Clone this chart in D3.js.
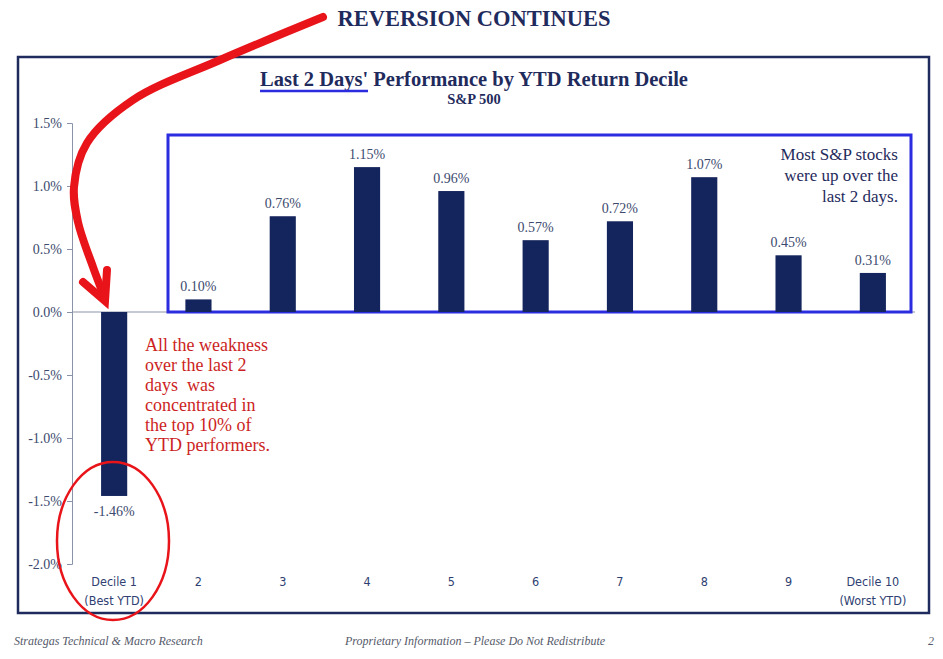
<!DOCTYPE html>
<html lang="en">
<head>
<meta charset="utf-8">
<title>Reversion Continues</title>
<script src="https://d3js.org/d3.v7.min.js"></script>
<style>
  body { margin: 0; padding: 0; background: #fff; }
  svg { display: block; }
  .serif { font-family: "Liberation Serif", "DejaVu Serif", serif; }
  .narrow { font-family: "Liberation Sans Narrow", "DejaVu Sans Condensed", sans-serif; }
  .axis path, .axis line { stroke: #8a93a8; }
  .axis text { fill: #3c4a6e; font-family: "Liberation Serif", serif; font-size: 14px; }
</style>
</head>
<body>
<script>
// ---- data ----
var deciles = ["1", "2", "3", "4", "5", "6", "7", "8", "9", "10"];
var labelTop = ["Decile 1", "2", "3", "4", "5", "6", "7", "8", "9", "Decile 10"];
var labelBottom = ["(Best YTD)", "", "", "", "", "", "", "", "", "(Worst YTD)"];
var returns = [-1.46, 0.10, 0.76, 1.15, 0.96, 0.57, 0.72, 1.07, 0.45, 0.31];
var yTicks = [1.5, 1.0, 0.5, 0.0, -0.5, -1.0, -1.5, -2.0];

var width = 943, height = 659;
var navy = "#1f2b5c", barColor = "#14245c", red = "#e8141a";

var svg = d3.select("body").append("svg")
    .attr("width", width)
    .attr("height", height);

// outer frame
svg.append("rect")
    .attr("x", 18).attr("y", 57)
    .attr("width", 911).attr("height", 556)
    .attr("fill", "none").attr("stroke", navy).attr("stroke-width", 2.5);

// scales
var x = d3.scaleBand()
    .domain(deciles)
    .range([72, 915])
    .paddingInner(0.69)
    .paddingOuter(0.345);

var y = d3.scaleLinear()
    .domain([-2.0, 1.5])
    .range([564, 123]);

// y axis
svg.append("g")
    .attr("class", "axis")
    .attr("transform", "translate(72,0)")
    .call(d3.axisLeft(y).tickValues(yTicks).tickSizeOuter(0).tickSize(5).tickPadding(5)
        .tickFormat(function(d) { return d.toFixed(1) + "%"; }));

// zero line
svg.append("line")
    .attr("x1", 72).attr("x2", 915)
    .attr("y1", y(0)).attr("y2", y(0))
    .attr("stroke", "#8a93a8");

// blue highlight box
svg.append("rect")
    .attr("x", 168).attr("y", 135)
    .attr("width", 743).attr("height", y(0) - 135)
    .attr("fill", "none").attr("stroke", "#2b2be0").attr("stroke-width", 3);

// bars
svg.selectAll(".bar")
    .data(returns)
    .enter().append("rect")
    .attr("class", "bar")
    .attr("x", function(d, i) { return x(deciles[i]); })
    .attr("width", x.bandwidth())
    .attr("y", function(d) { return y(Math.max(0, d)); })
    .attr("height", function(d) { return Math.abs(y(d) - y(0)); })
    .attr("fill", barColor);

// value labels
svg.selectAll(".val")
    .data(returns)
    .enter().append("text")
    .attr("class", "serif")
    .attr("x", function(d, i) { return x(deciles[i]) + x.bandwidth() / 2; })
    .attr("y", function(d) { return d >= 0 ? y(d) - 8 : y(d) + 20; })
    .attr("text-anchor", "middle")
    .attr("font-size", 14)
    .attr("fill", "#3c4a6e")
    .text(function(d) { return d.toFixed(2) + "%"; });

// category labels
var cat = svg.selectAll(".cat")
    .data(deciles)
    .enter().append("text")
    .attr("class", "narrow")
    .attr("x", function(d) { return x(d) + x.bandwidth() / 2; })
    .attr("text-anchor", "middle")
    .attr("font-size", 12.5)
    .attr("fill", "#2f3f72");
cat.append("tspan").attr("y", 586).text(function(d, i) { return labelTop[i]; });
cat.append("tspan")
    .attr("x", function(d) { return x(d) + x.bandwidth() / 2; })
    .attr("y", 605).text(function(d, i) { return labelBottom[i]; });

// titles
svg.append("text")
    .attr("class", "serif")
    .attr("x", 474).attr("y", 26)
    .attr("text-anchor", "middle")
    .attr("font-size", 22.5).attr("font-weight", "bold")
    .attr("fill", navy)
    .text("REVERSION CONTINUES");

var title = svg.append("text")
    .attr("class", "serif")
    .attr("x", 474).attr("y", 86)
    .attr("text-anchor", "middle")
    .attr("font-size", 20.5).attr("font-weight", "bold")
    .attr("fill", navy)
    .text("Last 2 Days' Performance by YTD Return Decile");

var tb = title.node().getBBox();
svg.append("line")
    .attr("x1", tb.x).attr("x2", tb.x + 108)
    .attr("y1", 91).attr("y2", 91)
    .attr("stroke", "#2b2be0").attr("stroke-width", 2.5);

svg.append("text")
    .attr("class", "serif")
    .attr("x", 474).attr("y", 104)
    .attr("text-anchor", "middle")
    .attr("font-size", 14.5).attr("font-weight", "bold")
    .attr("fill", navy)
    .text("S&P 500");

// annotations
var redLines = ["All the weakness", "over the last 2", "days  was", "concentrated in", "the top 10% of", "YTD performers."];
svg.append("text")
    .attr("class", "serif")
    .attr("font-size", 18)
    .attr("fill", "#cc1f24")
    .attr("xml:space", "preserve")
    .selectAll("tspan")
    .data(redLines)
    .enter().append("tspan")
    .attr("x", 145)
    .attr("y", function(d, i) { return 351 + i * 20; })
    .text(function(d) { return d; });

var blueLines = ["Most S&P stocks", "were up over the", "last 2 days."];
svg.append("text")
    .attr("class", "serif")
    .attr("font-size", 17)
    .attr("fill", navy)
    .attr("text-anchor", "end")
    .selectAll("tspan")
    .data(blueLines)
    .enter().append("tspan")
    .attr("x", 898)
    .attr("y", function(d, i) { return 160 + i * 21; })
    .text(function(d) { return d; });

// red arrow
var curve = d3.line().curve(d3.curveCatmullRom);
svg.append("path")
    .attr("d", curve([[323, 17], [220, 60], [133, 100], [87, 143], [74, 187], [78, 222], [93, 267], [104, 296]]))
    .attr("fill", "none").attr("stroke", red).attr("stroke-width", 8).attr("stroke-linecap", "round");
svg.append("path")
    .attr("d", d3.line()([[83, 282], [105, 301], [107, 270]]))
    .attr("fill", "none").attr("stroke", red).attr("stroke-width", 8)
    .attr("stroke-linecap", "round").attr("stroke-linejoin", "miter");

// red ellipse
svg.append("ellipse")
    .attr("cx", 113).attr("cy", 541)
    .attr("rx", 56).attr("ry", 79)
    .attr("fill", "none").attr("stroke", red).attr("stroke-width", 2.5);

// footer
var foot = svg.append("g")
    .attr("class", "serif")
    .attr("font-size", 12).attr("font-style", "italic").attr("fill", "#555a6a");
foot.append("text").attr("x", 14).attr("y", 645).text("Strategas Technical & Macro Research");
foot.append("text").attr("x", 475).attr("y", 645).attr("text-anchor", "middle")
    .text("Proprietary Information \u2013 Please Do Not Redistribute");
foot.append("text").attr("x", 934).attr("y", 645).attr("text-anchor", "end").text("2");
</script>
</body>
</html>
